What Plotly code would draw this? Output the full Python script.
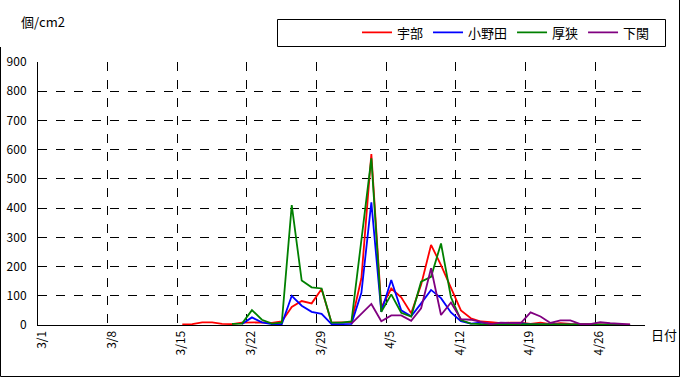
import plotly.graph_objects as go

# categories: 3/1 .. 4/30
dates = ["3/1","3/2","3/3","3/4","3/5","3/6","3/7","3/8","3/9","3/10",
         "3/11","3/12","3/13","3/14","3/15","3/16","3/17","3/18","3/19","3/20",
         "3/21","3/22","3/23","3/24","3/25","3/26","3/27","3/28","3/29","3/30",
         "3/31","4/1","4/2","4/3","4/4","4/5","4/6","4/7","4/8","4/9",
         "4/10","4/11","4/12","4/13","4/14","4/15","4/16","4/17","4/18","4/19",
         "4/20","4/21","4/22","4/23","4/24","4/25","4/26","4/27","4/28","4/29","4/30"]

N = None
ube = [N]*14 + [2, 3, 9, 9, 4, 3, 8, 9, 9, 7, 12, 62, 82, 74, 123, 8, 8, 10, 160, 585,
                60, 125, 95, 40, 138, 274, 205, 128, 50, 23, 12, 10, 6, 8, 8, 4, 8, 3, 6, 4,
                3, 2, 2, 2, 1, 1] + [N]
onoda = [N]*20 + [3, 26, 9, 3, 3, 100, 66, 45, 38, 3, 3, 4, 110, 420, 45, 154, 50, 30, 74, 120,
                  92, 43, 13, 5, 8, 4, 3, 6, 6, 2, 2, 1, 1, 1, 1, 1, 1, 0, 0, 0] + [N]
asa = [N]*19 + [4, 5, 51, 18, 5, 8, 410, 152, 129, 125, 8, 8, 12, 285, 570, 45, 105, 42, 29, 148,
                165, 279, 95, 17, 5, 3, 2, 2, 3, 3, 3, 3, 2, 2, 2, 1, 1, 1, 1, 0, 0] + [N]
shimo = [N]*31 + [5, 40, 72, 13, 33, 33, 14, 57, 194, 34, 77, 20, 18, 11, 3, 8, 8, 6, 43, 29,
                  7, 16, 16, 3, 3, 10, 6, 4, 2] + [N]

names = ["宇部", "小野田", "厚狭", "下関"]
colors = ["#FF0000", "#0000FF", "#008000", "#800080"]
series = [ube, onoda, asa, shimo]

W, H = 680, 377
ML, MR, MT, MB = 38, 35, 62, 52
PW, PH = W - ML - MR, H - MT - MB

def px(x):
    return (x - ML) / PW

def py(y):
    return (H - MB - y) / PH

FONT = "Noto Sans CJK JP"
idx = list(range(len(dates)))

fig = go.Figure()
for name, col, vals in zip(names, colors, series):
    fig.add_trace(go.Scatter(x=idx, y=vals, mode="lines", name=name,
                             line=dict(color=col, width=1.8), connectgaps=False))

tick_pos = [i - 0.5 for i in idx[::7]]
tick_txt = dates[::7]

fig.update_layout(
    width=W, height=H,
    margin=dict(l=ML, r=MR, t=MT, b=MB, pad=0, autoexpand=False),
    paper_bgcolor="white", plot_bgcolor="white",
    font=dict(family=FONT, size=12, color="black"),
    showlegend=True,
    legend=dict(orientation="h", x=px(655), xanchor="right", y=py(32.5), yanchor="middle",
                font=dict(size=13, family=FONT), itemwidth=30, bgcolor="rgba(0,0,0,0)",
                traceorder="normal"),
    xaxis=dict(range=[-0.5, len(dates) - 0.5], tickmode="array", tickvals=tick_pos,
               ticktext=tick_txt, tickangle=-90, ticklabelshift=4, showgrid=True,
               gridcolor="black", griddash="dash", gridwidth=1, showline=True,
               linecolor="black", linewidth=1, ticks="", zeroline=False,
               tickfont=dict(size=12, family=FONT)),
    yaxis=dict(range=[0, 900], dtick=100, tick0=0, showgrid=True, gridcolor="black",
               griddash="dash", gridwidth=1, showline=True, linecolor="black", linewidth=1,
               ticks="", ticklabelstandoff=8, zeroline=False,
               tickfont=dict(size=12, family=FONT)),
    shapes=[
        dict(type="rect", xref="paper", yref="paper", x0=px(277.5), x1=px(665.5),
             y0=py(46.5), y1=py(19.5), line=dict(color="black", width=1), layer="below"),
        dict(type="line", xref="paper", yref="paper", x0=px(0.5), x1=px(0.5),
             y0=py(376.5), y1=py(47), line=dict(color="black", width=1)),
        dict(type="line", xref="paper", yref="paper", x0=px(0.5), x1=px(679.5),
             y0=py(376.5), y1=py(376.5), line=dict(color="black", width=1)),
        dict(type="line", xref="paper", yref="paper", x0=px(679.5), x1=px(679.5),
             y0=py(376.5), y1=py(0), line=dict(color="black", width=1)),
    ],
    annotations=[
        dict(text="個/cm2", xref="paper", yref="paper", x=px(19), y=py(21), xanchor="left",
             yanchor="middle", showarrow=False, font=dict(size=13, family=FONT)),
        dict(text="日付", xref="paper", yref="paper", x=px(649), y=py(334), xanchor="left",
             yanchor="middle", showarrow=False, font=dict(size=13, family=FONT)),
    ],
)

fig.write_html("out.html", config={"displayModeBar": False},
               post_script="document.body.style.margin='0';document.body.style.overflow='hidden';")
